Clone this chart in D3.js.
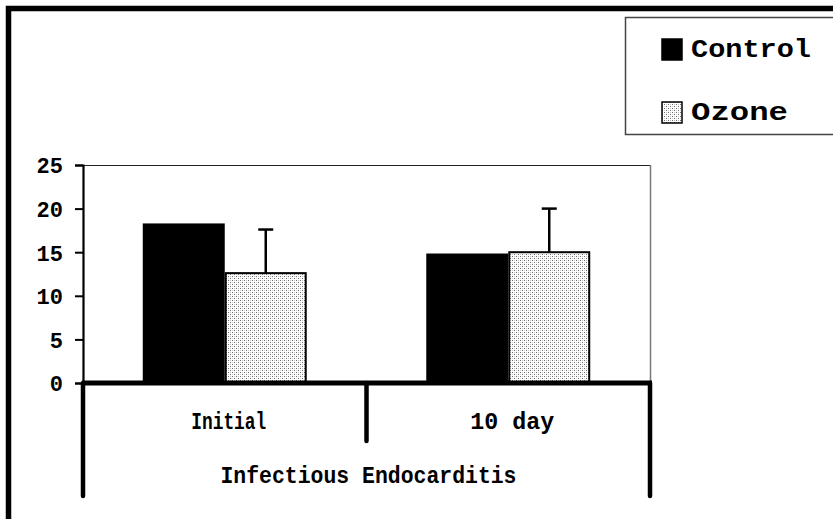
<!DOCTYPE html>
<html><head><meta charset="utf-8">
<script src="https://cdn.jsdelivr.net/npm/d3@7"></script>
<style>
html,body{margin:0;padding:0;background:#fff;}
text{font-family:"Liberation Mono","Courier New",monospace;font-weight:bold;fill:#000;}
</style></head>
<body>
<svg id="chart" width="833" height="519"></svg>
<script>
const categories = ["Initial", "10 day"];
const seriesNames = ["Control", "Ozone"];
const controlValues = [18.3, 14.85];
const ozoneValues = [12.6, 15.0];
const ozoneErrors = [5.0, 5.0];
const yTicks = [0, 5, 10, 15, 20, 25];
const groupLabel = "Infectious Endocarditis";

(function(){
const svg = d3.select("#chart");
const defs = svg.append("defs");
const pat = defs.append("pattern").attr("id","dots").attr("patternUnits","userSpaceOnUse")
  .attr("width",4).attr("height",4);
pat.append("rect").attr("width",4).attr("height",4).attr("fill","#fff");
pat.append("rect").attr("x",0).attr("y",0).attr("width",1).attr("height",1).attr("fill","#6e6e6e");
pat.append("rect").attr("x",2).attr("y",2).attr("width",1).attr("height",1).attr("fill","#6e6e6e");
pat.append("rect").attr("x",2).attr("y",0).attr("width",1).attr("height",1).attr("fill","#bdbdbd");
pat.append("rect").attr("x",0).attr("y",2).attr("width",1).attr("height",1).attr("fill","#d5d5d5");

// outer frame
svg.append("rect").attr("x",8.5).attr("y",8.5).attr("width",900).attr("height",600)
  .attr("fill","none").attr("stroke","#000").attr("stroke-width",5.5);

const pLeft = 83, pRight = 650, pTop = 165, pBottom = 383;
const y = d3.scaleLinear().domain([0,25]).range([pBottom, pTop]);
const x0 = d3.scaleBand().domain(categories).range([pLeft, pRight]).padding(0);
const x1 = d3.scaleBand().domain(seriesNames).range([0, x0.bandwidth()]).paddingInner(0).paddingOuter(0.729);

// plot frame (top & right)
svg.append("line").attr("x1",pLeft).attr("x2",pRight).attr("y1",pTop+0.5).attr("y2",pTop+0.5)
  .attr("stroke","#222").attr("stroke-width",1.2);
svg.append("line").attr("x1",pRight+0.5).attr("x2",pRight+0.5).attr("y1",pTop).attr("y2",pBottom)
  .attr("stroke","#777").attr("stroke-width",1.5);

// bars
const data = categories.map((c,i)=>({cat:c, vals:[
  {s:"Control", v:controlValues[i]}, {s:"Ozone", v:ozoneValues[i], e:ozoneErrors[i]}]}));
const g = svg.append("g");
data.forEach(d=>{
  d.vals.forEach(b=>{
    const bx = x0(d.cat)+x1(b.s);
    if (b.s==="Control") {
      g.append("rect").attr("x",bx).attr("y",y(b.v)).attr("width",x1.bandwidth())
        .attr("height",y(0)-y(b.v)).attr("fill","#000");
    } else {
      if (b.e) {
        const cx = bx + x1.bandwidth()/2;
        g.append("line").attr("x1",cx).attr("x2",cx).attr("y1",y(b.v)).attr("y2",y(b.v+b.e))
          .attr("stroke","#000").attr("stroke-width",2.5);
        g.append("line").attr("x1",cx-7.5).attr("x2",cx+7.5).attr("y1",y(b.v+b.e)).attr("y2",y(b.v+b.e))
          .attr("stroke","#000").attr("stroke-width",2.5);
      }
      g.append("rect").attr("x",bx+1).attr("y",y(b.v)).attr("width",x1.bandwidth()-2)
        .attr("height",y(0)-y(b.v)).attr("fill","url(#dots)").attr("stroke","#000").attr("stroke-width",2);
    }
  });
});

// y axis
const yAxis = d3.axisLeft(y).tickValues(yTicks).tickSize(8).tickPadding(12).tickFormat(d3.format("d"));
const ya = svg.append("g").attr("transform",`translate(${pLeft},0)`).call(yAxis);
ya.select(".domain").attr("stroke","#000").attr("stroke-width",2.2);
ya.selectAll(".tick line").attr("stroke","#000").attr("stroke-width",2);
ya.selectAll(".tick text").style("font-size","22px").attr("dy","0.36em").style("font-family","'Liberation Mono',monospace").style("font-weight","bold");

// zero baseline & category dividers
svg.append("line").attr("x1",pLeft-1).attr("x2",pRight+2).attr("y1",pBottom).attr("y2",pBottom)
  .attr("stroke","#000").attr("stroke-width",5);
const dividers = [pLeft, x0(categories[1]), pRight];
dividers.forEach((dx,i)=>{
  svg.append("line").attr("x1",dx).attr("x2",dx).attr("y1",pBottom).attr("y2", i===1 ? 441 : 496)
    .attr("stroke","#000").attr("stroke-width",4.5).attr("stroke-linecap","round");
});

// category labels
const catWidths = [75, 84];
categories.forEach((c,i)=>{
  svg.append("text").attr("x",x0(c)+x0.bandwidth()/2+4).attr("y",429)
    .attr("text-anchor","middle").style("font-size","24px")
    .attr("textLength",catWidths[i]).attr("lengthAdjust","spacingAndGlyphs").text(c);
});
svg.append("text").attr("x",(pLeft+pRight)/2+2).attr("y",483).attr("text-anchor","middle")
  .style("font-size","24px").attr("textLength",296).attr("lengthAdjust","spacingAndGlyphs").text(groupLabel);

// legend
svg.append("rect").attr("x",625.5).attr("y",17.5).attr("width",300).attr("height",117)
  .attr("fill","#fff").attr("stroke","#444").attr("stroke-width",1.5);
const legY = [39, 102];
const legTextY = [57, 119.5];
const legW = [120, 97];
seriesNames.forEach((s,i)=>{
  svg.append("rect").attr("x",662).attr("y",legY[i]).attr("width",20).attr("height",21)
    .attr("fill", s==="Control" ? "#000" : "url(#dots)").attr("stroke","#000").attr("stroke-width",1.5);
  svg.append("text").attr("x",691).attr("y",legTextY[i]).style("font-size","25px")
    .attr("textLength",legW[i]).attr("lengthAdjust","spacingAndGlyphs").text(s);
});
})();
</script>
</body></html>
